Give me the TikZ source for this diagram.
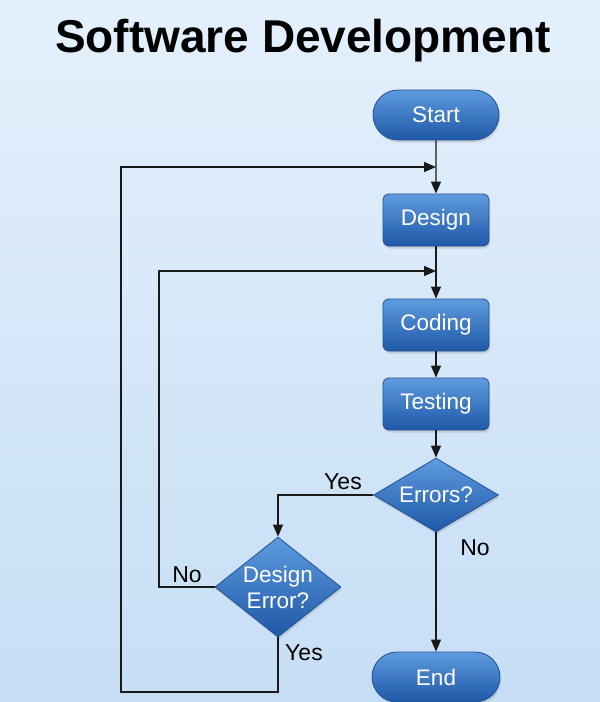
\documentclass[tikz,border=0pt]{standalone}
\usepackage{fontspec}
\setmainfont{Liberation Sans}
\usetikzlibrary{shapes.geometric,shapes.misc,arrows.meta,shadows}
\definecolor{bgtop}{RGB}{228,240,252}
\definecolor{bgbot}{RGB}{198,222,245}
\definecolor{boxtop}{RGB}{95,155,222}
\definecolor{boxbot}{RGB}{30,88,168}
\definecolor{boxedge}{RGB}{35,82,148}
\definecolor{linecol}{RGB}{25,25,25}
\tikzset{
  base/.style={draw=boxedge, line width=0.8pt, top color=boxtop, bottom color=boxbot,
    text=white, font=\fontsize{22.5}{25}\selectfont, inner sep=1pt,
    drop shadow={opacity=0.25, shadow xshift=1pt, shadow yshift=-2.5pt}},
  term/.style={base, rounded rectangle, minimum width=128pt, minimum height=50pt},
  proc/.style={base, rectangle, rounded corners=6pt, minimum width=106pt, minimum height=52pt},
  dec/.style={base, diamond, inner sep=0pt},
  arr/.style={draw=linecol, line width=1.2pt, -{Triangle[length=12pt,width=10pt]}},
  lbl/.style={text=black, font=\fontsize{23}{26}\selectfont, inner sep=0pt}
}
\begin{document}
\begin{tikzpicture}[x=1pt,y=-1pt]
\useasboundingbox (0,0) rectangle (600,702);
\shade[top color=bgtop, bottom color=bgbot] (0,0) rectangle (600,702);
\begin{scope}
\clip (0,0) rectangle (600,702);
\node[anchor=base, font=\bfseries\fontsize{46}{50}\selectfont, inner sep=0pt] (title) at (303,52) {Software Development};

\node[term] (start) at (436,115) {Start};
\node[proc] (design) at (436,220) {Design};
\node[proc] (coding) at (436,325) {Coding};
\node[proc] (testing) at (436,404) {Testing};
\node[dec, minimum width=125pt, minimum height=74pt, shape aspect=1.69] (err) at (436,495) {Errors?};
\node[dec, minimum width=126pt, minimum height=100pt, shape aspect=1.26, align=center,
      font=\fontsize{22.5}{26}\selectfont] (de) at (278,587) {Design\\Error?};
\node[term, minimum width=130pt] (end) at (436,677) {End};

\coordinate (j1) at (436,167);
\coordinate (j2) at (436,271);
\coordinate (c1) at (121,692);
\coordinate (c2) at (159,271);

\draw[arr] (start) -- (design);
\draw[arr] (design) -- (coding);
\draw[arr] (coding) -- (testing);
\draw[arr] (testing) -- (err);
\draw[arr] (err.west) -| (de.north);
\draw[arr] (err.south) -- (end.north);
\draw[arr] (de.south) |- (c1) |- (j1);
\draw[arr] (de.west) -| (c2) -- (j2);

\node[lbl] (yes1) at (343,482) {Yes};
\node[lbl] (no1) at (475,548) {No};
\node[lbl] (no2) at (187,575) {No};
\node[lbl] (yes2) at (304,653) {Yes};
\end{scope}
\end{tikzpicture}
\end{document}
